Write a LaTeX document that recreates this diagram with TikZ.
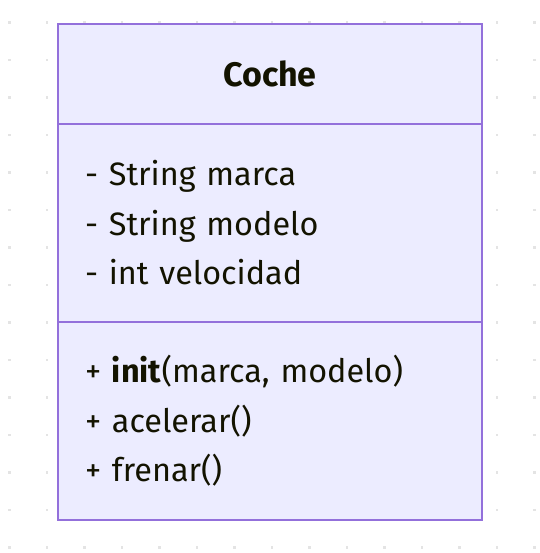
\documentclass[tikz,border=0pt]{standalone}
\usepackage{fontspec}
\setmainfont{Fira Sans}
\usetikzlibrary{positioning}

\definecolor{umlfill}{HTML}{ECECFF}
\definecolor{umlline}{HTML}{9370DB}
\definecolor{umltext}{HTML}{131300}
\definecolor{griddot}{HTML}{E4E4E4}

\tikzset{
  compart/.style={draw=umlline, fill=umlfill, line width=1.5pt, outer sep=0pt,
    inner xsep=20.25pt, inner ysep=0pt, text width=277.5pt, align=left,
    text=umltext, font=\fontsize{24.3pt}{37.1pt}\selectfont}
}

\begin{document}
\begin{tikzpicture}[x=0.75pt,y=-0.75pt]
  \useasboundingbox (0,0) rectangle (539,553);
  % dotted background
  \foreach \i in {0,...,14}
    \foreach \j in {0,...,14}
      \fill[griddot] (8+37.5*\i,21+37.5*\j) rectangle ++(2.5,2.5);

  % class box
  \node[compart, align=center, minimum height=75pt, font=\fontsize{25.5pt}{37.1pt}\selectfont\bfseries]
        (title) at (270,74) {Coche};
  \node[compart, minimum height=148.5pt] (attrs) [below=0pt of title]
        {- String marca\\- String modelo\\- int velocidad};
  \node[compart, minimum height=148.5pt] (ops) [below=0pt of attrs]
        {+ \textbf{init}(marca, modelo)\\+ acelerar()\\+ frenar()};
\end{tikzpicture}
\end{document}
